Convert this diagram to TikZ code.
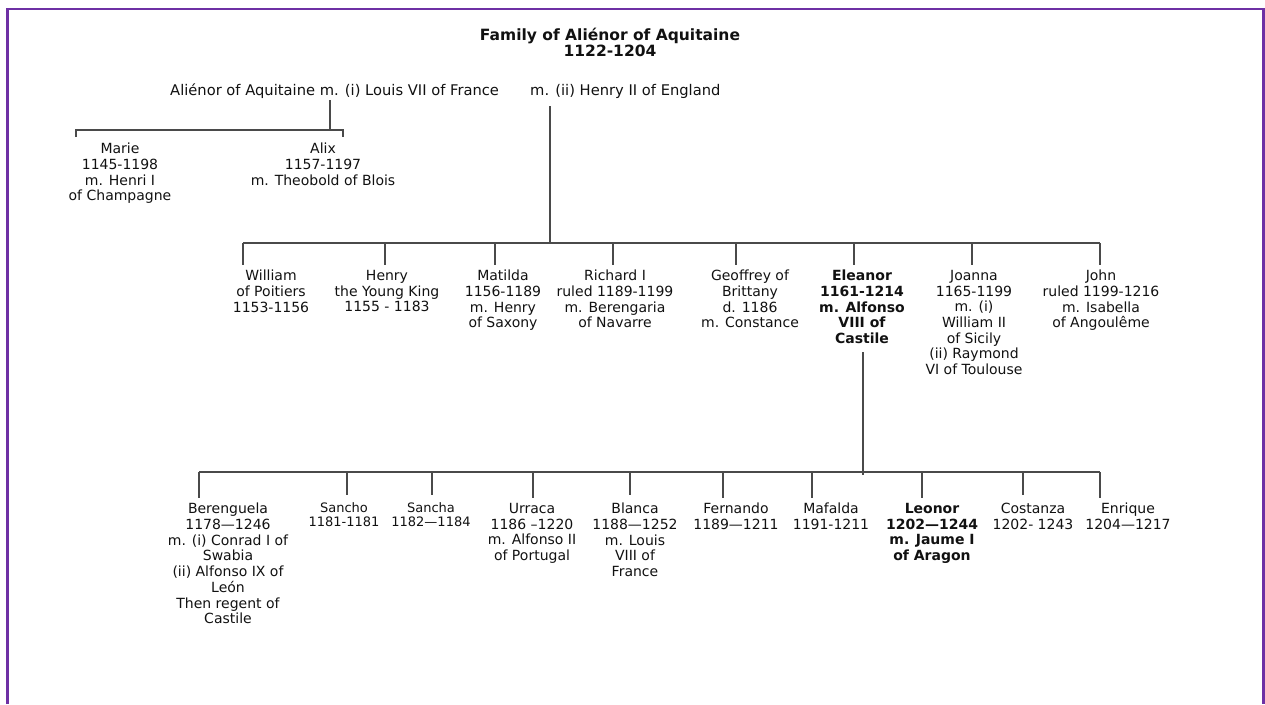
\documentclass[tikz,border=0pt]{standalone}
\usepackage{fontspec}
\setmainfont{DejaVu Sans}
\definecolor{framec}{HTML}{6E30A4}
\definecolor{linec}{HTML}{4A4A4A}
\definecolor{textc}{HTML}{111111}
\begin{document}
\begin{tikzpicture}[x=1pt,y=-1pt,
  person/.style={anchor=north,align=center,inner sep=0pt,text=textc,font=\fontsize{14}{15.7}\selectfont},
  small/.style={person,font=\fontsize{13}{14.5}\selectfont},
  strong/.style={person,font=\fontsize{14}{15.7}\selectfont\bfseries},
  couple/.style={anchor=base west,inner sep=0pt,text=textc,font=\fontsize{14.7}{16}\selectfont},
  titlestyle/.style={anchor=north,align=center,inner sep=0pt,text=textc,font=\fontsize{15.5}{16}\selectfont\bfseries},
  conn/.style={draw=linec,line width=1.1pt}]
\useasboundingbox (0,0) rectangle (1265,704);
\draw[framec,line width=2.6pt] (7.5,704) -- (7.5,9) -- (1263.5,9) -- (1263.5,704);

\node[titlestyle] (title) at (610,28) {Family of Aliénor of Aquitaine\\1122-1204};

\node[couple] (louis) at (170,95) {Aliénor of Aquitaine m. (i) Louis VII of France};
\node[couple] (henry2) at (530,95) {m. (ii) Henry II of England};

% first marriage
\node[person] (marie) at (120,143) {Marie\\1145-1198\\m. Henri I\\of Champagne};
\node[person] (alix) at (323,143) {Alix\\1157-1197\\m. Theobold of Blois};
\coordinate (l1) at (330,100);
\coordinate (b1) at (330,130);
\coordinate (mT) at (76,137);
\coordinate (aT) at (343,137);
\draw[conn] (l1) -- (b1);
\draw[conn] (mT) -- (mT |- b1) -- (aT |- b1) -- (aT);

% second marriage
\node[person] (william) at (271,270) {William\\of Poitiers\\1153-1156};
\node[person] (henry) at (387,270) {Henry\\the Young King\\1155 - 1183};
\node[person] (matilda) at (503,270) {Matilda\\1156-1189\\m. Henry\\of Saxony};
\node[person] (richard) at (615,270) {Richard I\\ruled 1189-1199\\m. Berengaria\\of Navarre};
\node[person] (geoffrey) at (750,270) {Geoffrey of\\Brittany\\d. 1186\\m. Constance};
\node[strong] (eleanor) at (862,270) {Eleanor\\1161-1214\\m. Alfonso\\VIII of\\Castile};
\node[person] (joanna) at (974,270) {Joanna\\1165-1199\\m. (i)\\William II\\of Sicily\\(ii) Raymond\\VI of Toulouse};
\node[person] (john) at (1101,270) {John\\ruled 1199-1216\\m. Isabella\\of Angoulême};

\coordinate (l2) at (550,106);
\coordinate (b2) at (550,243);
\draw[conn] (l2) -- (b2);
\draw[conn] (243,243) -- (1100,243);
\foreach \x/\n in {243/t1,385/t2,495/t3,613/t4,736/t5,854/t6,972/t7,1100/t8}{
  \coordinate (\n top) at (\x,243);
  \coordinate (\n bot) at (\x,265);
  \draw[conn] (\n top) -- (\n bot);
}

% Eleanor's children
\node[person] (berenguela) at (228,503) {Berenguela\\1178—1246\\m. (i) Conrad I of\\Swabia\\(ii) Alfonso IX of\\León\\Then regent of\\Castile};
\node[small] (sancho) at (344,502) {Sancho\\1181-1181};
\node[small] (sancha) at (431,502) {Sancha\\1182—1184};
\node[person] (urraca) at (532,503) {Urraca\\1186 –1220\\m. Alfonso II\\of Portugal};
\node[person] (blanca) at (635,503) {Blanca\\1188—1252\\m. Louis\\VIII of\\France};
\node[person] (fernando) at (736,503) {Fernando\\1189—1211};
\node[person] (mafalda) at (831,503) {Mafalda\\1191-1211};
\node[strong] (leonor) at (932,503) {Leonor\\1202—1244\\m. Jaume I\\of Aragon};
\node[person] (costanza) at (1033,503) {Costanza\\1202- 1243};
\node[person] (enrique) at (1128,503) {Enrique\\1204—1217};

\coordinate (l3) at (863,352);
\coordinate (b3) at (863,475);
\draw[conn] (l3) -- (b3);
\draw[conn] (199,472) -- (1100,472);
\foreach \x/\n/\e in {199/u1/498,347/u2/495,432/u3/495,533/u4/498,630/u5/495,723/u6/498,812/u7/498,922/u8/498,1023/u9/495,1100/u10/498}{
  \coordinate (\n top) at (\x,472);
  \coordinate (\n bot) at (\x,\e);
  \draw[conn] (\n top) -- (\n bot);
}
\end{tikzpicture}
\end{document}
